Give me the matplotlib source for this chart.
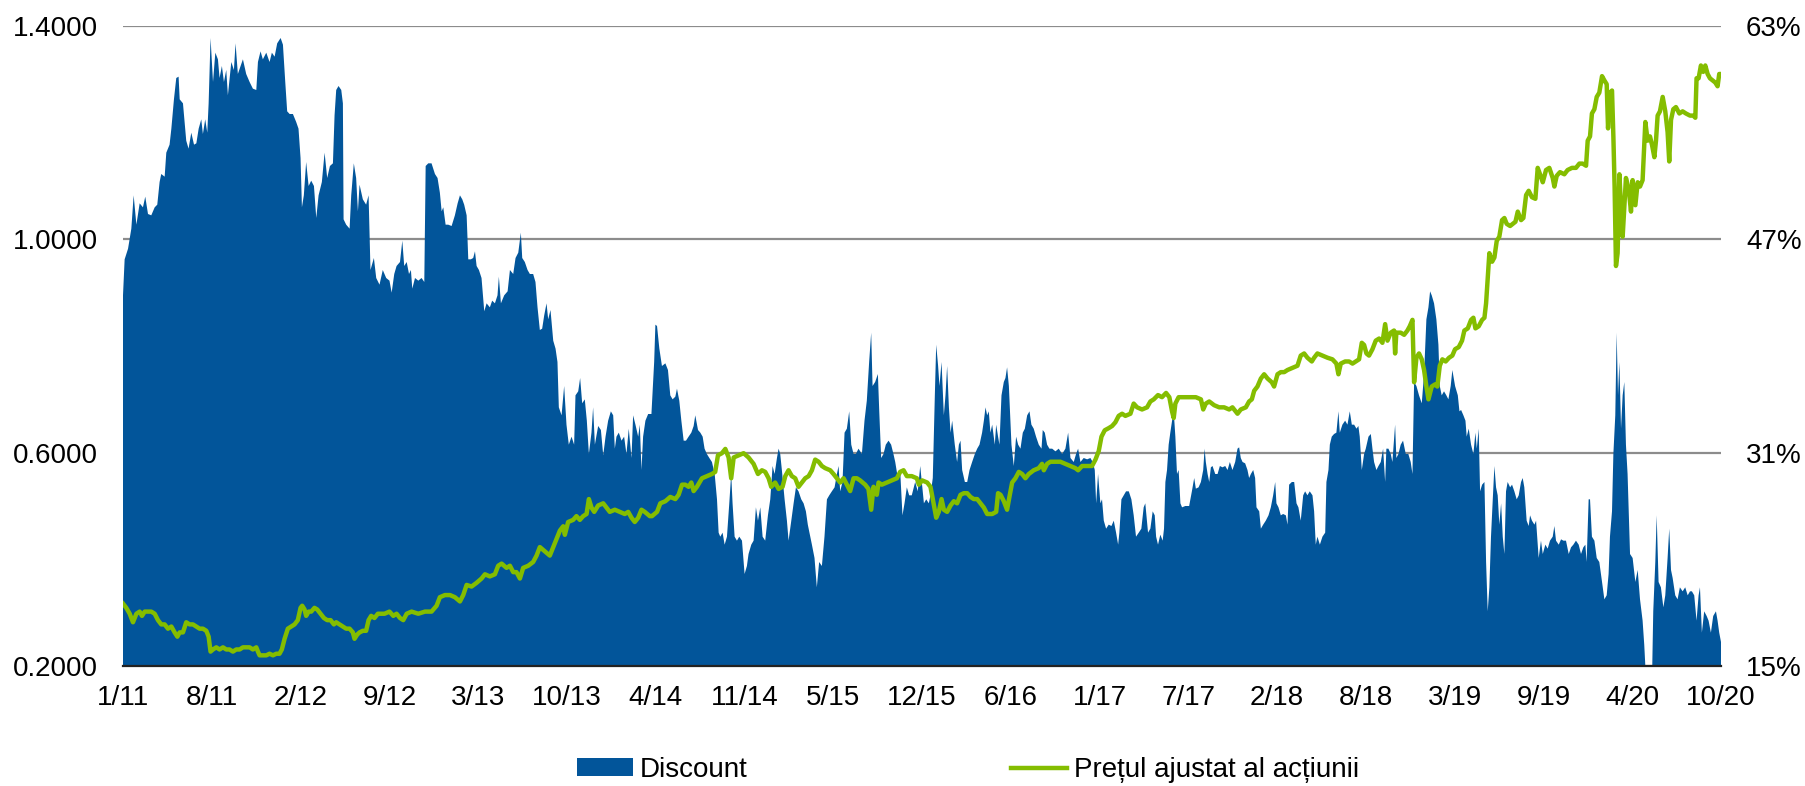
import numpy as np
import matplotlib.pyplot as plt
from matplotlib.patches import Patch
from matplotlib.lines import Line2D

plt.rcParams['font.family'] = ['Liberation Sans', 'DejaVu Sans']

# x axis: months since Jan 2011
tick_labels = ['1/11', '8/11', '2/12', '9/12', '3/13', '10/13', '4/14', '11/14', '5/15',
               '12/15', '6/16', '1/17', '7/17', '2/18', '8/18', '3/19', '9/19', '4/20', '10/20']

# discount (%), right axis
disc_t = [0, 0.12, 0.37, 0.61, 0.78, 0.98, 1.22, 1.46, 1.63, 1.83, 2.07, 2.32, 2.51, 2.68, 2.80, 3.05,
          3.17, 3.41, 3.54, 3.73, 3.90, 4.07, 4.15, 4.39, 4.63, 4.80, 5.00, 5.20, 5.37, 5.54, 5.73, 5.85,
          6.02, 6.17, 6.27, 6.41, 6.59, 6.76, 6.95, 7.07, 7.24, 7.39, 7.56, 7.68, 7.93, 8.12, 8.24, 8.41,
          8.61, 8.78, 9.02, 9.27, 9.51, 9.76, 9.88, 10.07, 10.24, 10.49, 10.73, 10.90, 11.10, 11.29, 11.54,
          11.71, 11.88, 12.02, 12.20, 12.44, 12.68, 12.85, 13.00, 13.10, 13.24, 13.41, 13.59, 13.78, 13.98,
          14.15, 14.32, 14.56, 14.76, 14.95, 15.15, 15.37, 15.49, 15.61, 15.78, 15.98, 16.10, 16.15, 16.34,
          16.59, 16.71, 16.90, 17.07, 17.20, 17.32, 17.56, 17.80, 17.98, 18.12, 18.37, 18.54, 18.78, 19.02,
          19.27, 19.51,
          19.67, 19.86, 20.03, 20.28, 20.45, 20.59, 20.77, 20.94, 21.08, 21.18, 21.38, 21.62, 21.86, 22.06,
          22.16, 22.35, 22.59, 22.84, 23.03, 23.20, 23.33, 23.45, 23.62, 23.81, 24.06, 24.30, 24.50, 24.67,
          24.84, 24.98, 25.16, 25.28, 25.47, 25.64, 25.77, 25.89, 26.06, 26.25, 26.45, 26.62, 26.86, 27.03,
          27.23, 27.42, 27.52, 27.67, 27.91, 28.16, 28.33, 28.57, 28.74, 28.94, 29.13, 29.23, 29.42, 29.62,
          29.79, 30.03, 30.20, 30.35, 30.52, 30.69, 30.84, 31.01, 31.13, 31.30, 31.50, 31.67, 31.81, 31.91,
          32.11, 32.30, 32.47, 32.64, 32.84, 33.03, 33.13, 33.33, 33.47, 33.62, 33.81, 33.96, 34.11, 34.30,
          34.42, 34.55, 34.79, 34.99, 35.16, 35.33, 35.52, 35.72, 35.89, 36.01, 36.13, 36.30, 36.50, 36.69,
          36.86, 37.03, 37.23, 37.35, 37.52, 37.72, 37.84, 37.96, 38.08, 38.25, 38.45, 38.69, 38.89, 38.98,
          39.10, 39.27, 39.46, 39.71, 39.90, 40.07, 40.24, 40.44, 40.56, 40.73, 40.88, 41.05, 41.22, 41.41,
          41.61, 41.78, 41.90, 42.10, 42.27, 42.44, 42.58, 42.75, 42.93, 43.12, 43.32, 43.49, 43.61, 43.73,
          43.90, 44.05, 44.22, 44.39, 44.53, 44.63, 44.78, 44.95, 45.12, 45.32, 45.51, 45.68, 45.80, 46.00,
          46.17, 46.34, 46.49, 46.66, 46.83, 47.02, 47.22, 47.39, 47.56, 47.71, 47.88, 48.00, 48.12, 48.24,
          48.44, 48.61, 48.73, 48.93, 49.10, 49.27, 49.46, 49.66, 49.83, 50.00, 50.14, 50.32, 50.44, 50.63,
          50.80, 50.97, 51.17, 51.36, 51.54, 51.71, 51.90, 52.10, 52.27, 52.39, 52.51, 52.68, 52.83, 53.00,
          53.17, 53.32, 53.49, 53.66, 53.85, 54.10, 54.29, 54.46, 54.63, 54.78, 54.88, 55.07, 55.27, 55.37,
          55.51, 55.68, 55.85, 56.05, 56.24, 56.41, 56.54, 56.73, 56.90, 57.07, 57.22, 57.39, 57.56, 57.75,
          58.00, 58.19, 58.37,
          58.64, 58.81, 59.00, 59.12, 59.29, 59.44, 59.54, 59.68, 59.78, 59.93, 60.10, 60.22, 60.34, 60.47,
          60.59, 60.71, 60.90, 61.07, 61.20, 61.32, 61.44, 61.64, 61.81, 61.98, 62.17, 62.37, 62.54, 62.71,
          62.90, 63.03, 63.15, 63.27, 63.39, 63.51, 63.64, 63.83, 63.93, 64.07, 64.17, 64.32, 64.49, 64.61,
          64.73, 64.86, 65.05, 65.22, 65.39, 65.54, 65.71, 65.88, 66.03, 66.20, 66.37, 66.51, 66.68, 66.85,
          67.05, 67.25, 67.34, 67.49, 67.66, 67.83, 68.03, 68.27, 68.51, 68.76, 69.00, 69.20, 69.37, 69.61,
          69.78, 69.93, 70.10, 70.34, 70.59, 70.83, 71.00, 71.15, 71.25, 71.39, 71.56, 71.68, 71.81, 71.98,
          72.17, 72.37, 72.54, 72.71, 72.86, 72.95, 73.10, 73.27, 73.44, 73.64, 73.83, 74.00, 74.17, 74.37,
          74.56, 74.73, 74.85, 75.05, 75.22, 75.39, 75.54, 75.64, 75.78, 75.95, 76.12, 76.22, 76.32, 76.44,
          76.56, 76.68, 76.81, 76.93, 77.05, 77.17, 77.29, 77.42, 77.54, 77.78,
          78.06, 78.26, 78.43, 78.55, 78.75, 78.92, 79.09, 79.19, 79.28, 79.41, 79.53, 79.65, 79.77, 79.97,
          80.14, 80.31, 80.50, 80.70, 80.87, 81.04, 81.23, 81.43, 81.60, 81.72, 81.84, 81.97, 82.16, 82.33,
          82.45, 82.58, 82.75, 82.89, 82.99, 83.19, 83.31, 83.48, 83.67, 83.87, 84.04, 84.21, 84.36, 84.45,
          84.60, 84.77, 84.94, 85.14, 85.26, 85.38, 85.58, 85.75, 85.92, 86.06, 86.23, 86.41, 86.55, 86.72,
          86.89, 87.09, 87.21, 87.33, 87.45, 87.63, 87.82, 88.02, 88.11, 88.26, 88.36, 88.50, 88.67, 88.84,
          88.99, 89.09, 89.28, 89.48, 89.65, 89.82, 89.97, 90.14, 90.31, 90.45, 90.55, 90.70, 90.87, 90.99,
          91.19, 91.36, 91.48, 91.60, 91.77, 91.92, 92.09, 92.26, 92.41, 92.50, 92.65, 92.82, 92.94, 93.14,
          93.23, 93.38, 93.55, 93.72, 93.92, 94.11, 94.28, 94.41, 94.53, 94.70, 94.89, 95.09, 95.26, 95.43,
          95.58, 95.70, 95.82, 95.99, 96.16, 96.31, 96.41, 96.55, 96.72, 96.89, 97.04, 97.21, 97.33, 97.53,
          97.73, 97.85, 97.97, 98.14, 98.29, 98.38, 98.53, 98.70, 98.87, 99.02, 99.12, 99.26, 99.36, 99.51,
          99.68, 99.80, 99.92, 100.04, 100.16, 100.29, 100.41, 100.53, 100.65, 100.77, 100.90, 101.02,
          101.14, 101.26, 101.38, 101.56, 101.70, 101.87, 102.04, 102.19, 102.36, 102.48, 102.60, 102.77,
          102.92, 103.02, 103.16, 103.34, 103.46, 103.65, 103.82, 103.95, 104.14, 104.31, 104.48, 104.68,
          104.80, 104.92, 105.12, 105.29, 105.46, 105.65, 105.85, 106.02, 106.19, 106.38, 106.58, 106.75,
          106.92, 107.07, 107.16, 107.31, 107.41, 107.55, 107.73, 107.90, 108.09, 108.29, 108.46, 108.63,
          108.77, 108.87, 109.02, 109.12, 109.26, 109.36, 109.46, 109.56, 109.68, 109.80, 109.92, 110.04,
          110.16, 110.34, 110.53, 110.73, 110.90, 111.07, 111.26, 111.38, 111.51, 111.75, 111.95, 112.04,
          112.19, 112.29, 112.43, 112.60, 112.78, 112.92, 113.09, 113.21, 113.34, 113.46, 113.65, 113.82,
          113.99, 114.19, 114.38, 114.56, 114.73, 114.87, 115.04, 115.21, 115.36, 115.46, 115.60, 115.77,
          115.95, 116.09, 116.26, 116.43, 116.63, 116.75, 116.87, 117.0]
disc_v = [42.8, 45.5, 46.3, 47.8, 50.3, 48.1, 49.7, 49.4, 50.2, 48.9, 48.8, 49.4, 49.6, 51.3, 51.9, 51.7,
          53.5, 54.1, 55.3, 57.5, 59.1, 59.2, 57.5, 57.2, 54.4, 53.8, 55.0, 54.1, 54.2, 55.3, 56.0, 54.9,
          56.0, 55.0, 57.2, 62.1, 58.8, 61.0, 60.5, 59.1, 60.0, 58.8, 59.7, 57.8, 60.3, 59.7, 61.7, 59.4,
          60.0, 60.5, 59.4, 58.8, 58.3, 58.2, 60.3, 61.1, 60.5, 61.0, 60.3, 61.0, 60.7, 61.7, 62.1,
          61.6, 58.8, 56.6, 56.4, 56.4, 55.8, 55.3, 53.1, 49.4, 50.3, 52.8, 51.0, 51.4, 51.0,
          48.6, 50.3, 51.3, 53.5, 51.6, 52.5, 52.7, 56.3, 58.2, 58.5, 58.2, 57.2, 48.5, 48.1,
          47.8, 50.3, 52.7, 51.6, 49.1, 51.1, 50.0, 49.6, 50.3, 44.7, 45.6, 44.1, 43.6, 44.7,
          44.1, 43.9,
          43.0, 44.4, 45.0, 45.3, 46.9, 45.0, 45.3, 44.4, 44.7, 43.3, 44.1, 43.9, 44.1, 43.8,
          52.5, 52.7, 52.7, 51.9, 51.6, 50.5, 49.1, 49.4, 48.1, 48.1, 48.0, 48.8, 49.7, 50.3,
          50.0, 49.6, 48.8, 45.5, 45.5, 45.6, 46.1, 45.0, 44.7, 44.1, 41.6, 42.2, 41.9, 42.4,
          42.2, 42.8, 44.2, 42.2, 42.8, 43.1, 44.7, 44.4, 45.6, 46.0, 47.5, 45.6, 45.3, 44.7,
          44.4, 44.4, 43.8, 41.9, 40.2, 40.3, 41.3, 42.2, 41.0, 41.7, 39.4, 38.8, 37.8, 34.4,
          33.8, 36.0, 33.1, 31.6, 32.2, 31.6, 35.3, 35.6, 36.6, 34.7, 35.0, 33.4, 30.9, 32.5,
          34.4, 31.6, 33.0, 32.7, 30.8, 32.2, 33.4, 34.1, 33.8, 31.3, 32.2, 32.5, 31.9, 32.2,
          30.9, 32.8, 30.6, 33.8, 33.1, 32.2, 33.1, 29.7, 32.2, 33.4, 33.9, 33.9, 37.8, 40.6,
          40.5, 38.8, 37.5, 37.7, 37.2, 35.3, 35.0, 35.2, 35.8, 34.9, 33.4, 31.9, 31.9, 32.2,
          32.5, 33.0, 33.8, 32.7, 32.5, 32.2, 31.3, 30.9, 30.6, 30.3, 29.4, 27.5, 25.0, 24.7,
          25.0, 24.1, 24.7, 27.2, 29.4, 27.2, 24.7, 24.4, 24.7, 24.4, 21.9, 22.5, 23.4, 24.1,
          24.4, 26.9, 25.9, 26.9, 24.7, 24.4, 26.3, 27.5, 30.0, 29.4, 30.6, 31.3, 30.9, 29.7,
          27.5, 25.9, 24.4, 25.9, 27.2, 28.4, 28.1, 27.5, 27.2, 26.6, 25.6, 24.7, 24.1, 23.1,
          20.9, 22.8, 22.5, 24.7, 27.5, 27.8, 28.1, 28.4, 29.4, 30.0, 28.1, 28.8, 32.5, 32.8,
          34.1, 31.6, 30.9, 30.9, 31.3, 30.9, 33.4, 34.9, 37.8, 40.0, 36.0, 36.3, 36.9, 34.1,
          30.6, 30.9, 31.6, 31.9, 31.6, 30.9, 30.3, 29.1, 29.7, 26.3, 27.2, 28.4, 27.8, 27.8,
          28.8, 28.1, 30.0,
          27.2, 27.5, 27.2, 27.8, 29.1, 35.3, 39.1, 37.5, 36.0, 37.8, 33.8, 35.3, 37.5, 34.4,
          32.5, 33.4, 31.6, 30.3, 31.6, 31.9, 29.7, 28.8, 28.8, 29.7, 30.3, 30.9, 31.3, 31.6,
          32.5, 33.4, 34.4, 33.8, 34.1, 32.5, 33.1, 31.6, 33.1, 32.2, 31.6, 35.3, 36.3, 36.6,
          37.4, 36.0, 31.6, 30.0, 32.2, 31.6, 31.3, 32.5, 32.8, 33.8, 34.1, 33.1, 32.8, 32.2,
          31.6, 31.3, 32.7, 32.5, 31.6, 31.3, 31.3, 31.1, 31.3, 30.9, 31.3, 32.5, 30.6, 30.3,
          30.9, 31.3, 30.3, 30.6, 30.5, 30.6, 30.3, 29.7, 27.2, 29.4, 27.2, 27.5, 25.9, 25.3,
          25.6, 25.5, 25.9, 25.0, 24.1, 25.0, 27.5, 27.8, 28.1, 28.1, 27.5, 26.3, 24.7, 25.0,
          25.3, 26.9, 27.2, 25.0, 25.3, 26.6, 26.3, 24.7, 24.1, 24.85, 24.4, 25.3, 28.8, 29.7,
          31.6, 32.5, 33.4, 34.1, 32.2, 29.4, 29.7, 27.2, 26.9, 27.0,
          27.0, 28.1, 29.1, 28.3, 28.4, 28.8, 29.7, 31.3, 30.3, 29.4, 28.8, 29.9, 30.0, 29.4,
          29.4, 30.0, 29.9, 30.0, 29.7, 30.3, 29.7, 30.3, 31.3, 31.4, 30.6, 30.3, 30.2, 29.7,
          29.1, 29.4, 29.7, 29.1, 26.9, 26.6, 25.3, 25.6, 25.9, 26.3, 26.9, 27.8, 28.8, 27.2,
          26.9, 26.3, 26.4, 26.3, 25.6, 28.6, 28.8, 28.8, 27.2, 26.9, 25.9, 27.8, 28.1, 27.8,
          28.1, 27.8, 26.6, 24.1, 24.7, 24.1, 24.7, 25.0, 28.8, 29.7, 31.6, 32.2, 32.4, 32.5,
          34.1, 32.5, 33.1, 33.4, 33.1, 34.1, 33.1, 33.1, 32.8, 33.0, 32.2, 29.7, 30.9, 31.3,
          32.2, 32.4, 31.3, 30.3, 29.7, 30.0, 30.3, 31.3, 28.8, 31.3, 31.3, 30.9, 30.3, 33.1,
          30.6, 30.9, 31.6, 31.9, 30.9, 30.9, 30.3, 29.4, 36.3, 36.0, 35.3, 34.7, 36.9, 41.0,
          41.9, 43.1, 42.8, 42.2, 41.0, 39.1, 36.0, 35.3, 35.6, 35.3, 35.0, 36.0, 37.2, 36.0,
          35.3, 34.1, 34.2, 33.8, 33.4, 32.2, 32.8, 31.6, 30.9, 32.5, 31.3, 32.8, 28.1, 28.6,
          28.8, 22.8, 19.1, 20.9, 24.7, 27.5, 30.0, 28.4, 27.8, 25.6, 27.2, 24.7,
          23.4, 28.1, 28.8, 28.4, 28.6, 28.1, 27.5, 27.8, 28.8, 29.1, 28.4, 25.9,
          25.5, 26.3, 25.9, 25.6, 25.9, 23.1, 24.4, 23.4, 24.1, 23.8, 24.4, 24.7,
          25.5, 24.4, 24.1, 24.5, 24.4, 24.4, 23.4, 23.9, 24.1, 24.4, 24.1, 23.4,
          23.9, 24.1, 22.8, 27.5, 27.5, 24.7, 24.4, 23.1, 22.8, 21.3, 20.0, 20.3,
          21.9, 24.7, 26.6, 30.9, 33.8, 40.0, 35.3, 37.8, 32.8, 35.3, 36.3, 31.6,
          29.4, 23.4, 23.1, 21.3, 22.2, 20.0, 18.4, 16.6, 14.0, 14.0, 14.0, 19.1,
          22.8, 26.3, 21.3, 20.9, 19.4, 20.3, 23.1, 25.3, 22.2, 21.6, 20.3, 20.0,
          20.9, 20.6, 20.9, 20.3, 20.6, 20.6, 20.3, 18.4, 20.3, 20.9, 17.5, 19.1,
          18.75, 18.4, 17.5, 18.75, 19.1, 18.4, 17.5, 16.8]

# adjusted share price, left axis
price_t = [0, 0.24, 0.49, 0.73, 0.98, 1.22, 1.39, 1.59, 1.83, 2.07, 2.32, 2.56, 2.80, 3.05, 3.29, 3.54,
           3.78, 3.98, 4.15, 4.39, 4.63, 4.88, 5.12, 5.37, 5.61, 5.85, 6.10, 6.27, 6.41, 6.59, 6.83, 7.07,
           7.32, 7.56, 7.80, 8.05, 8.29, 8.54, 8.78, 9.02, 9.27, 9.51, 9.76, 9.88, 10.00, 10.24, 10.49,
           10.73, 10.98, 11.22, 11.46, 11.63, 11.83, 12.07, 12.32, 12.56, 12.80, 13.00, 13.12, 13.29, 13.41,
           13.59, 13.78, 14.02, 14.22, 14.46, 14.71, 14.95, 15.20, 15.44, 15.61, 15.85, 16.10, 16.34, 16.59,
           16.83, 16.95, 17.15, 17.32, 17.56, 17.80, 17.98, 18.17, 18.41, 18.66, 18.90, 19.15, 19.51,
           19.79, 20.03, 20.28, 20.52, 20.77, 21.13, 21.62, 22.11, 22.59, 22.96, 23.20, 23.57, 23.94, 24.30,
           24.67, 24.91, 25.16, 25.52, 25.89, 26.25, 26.50, 26.86, 27.23, 27.47, 27.72, 28.08, 28.33, 28.57,
           28.81, 29.06, 29.30, 29.67, 30.03, 30.28, 30.52, 30.89, 31.25, 31.50, 31.74, 31.99, 32.23, 32.35,
           32.59, 32.96, 33.20, 33.45, 33.69, 33.94, 34.11, 34.30, 34.50, 34.79, 35.16, 35.40, 35.64, 36.01,
           36.38, 36.74, 36.99, 37.23, 37.47, 37.72, 37.96, 38.20, 38.57,
           38.73, 39.10, 39.34, 39.71, 40.07, 40.44, 40.68, 40.93, 41.17, 41.41, 41.61, 41.78, 42.02, 42.39,
           42.75, 43.12, 43.36, 43.56, 43.85, 44.10, 44.34, 44.53, 44.71, 45.07, 45.44, 45.80, 46.17, 46.49,
           46.78, 47.02, 47.27, 47.46, 47.75, 48.00, 48.29, 48.49, 48.73, 48.97, 49.22, 49.46, 49.71, 49.95,
           50.20, 50.44, 50.68, 50.93, 51.17, 51.41, 51.78, 52.02, 52.27, 52.51, 52.76, 53.00, 53.24, 53.49,
           53.73, 53.97, 54.34, 54.58, 54.78, 54.95, 55.19, 55.32, 55.56, 55.93, 56.29, 56.66, 56.90, 57.15,
           57.39, 57.75, 58.12,
           58.27, 58.51, 58.88, 59.12, 59.29, 59.54, 59.73, 59.93, 60.10, 60.34, 60.59, 60.83, 61.07, 61.32,
           61.56, 61.81, 62.05, 62.29, 62.54, 62.78, 63.03, 63.27, 63.64, 63.93, 64.07, 64.25, 64.49, 64.73,
           64.90, 65.10, 65.34, 65.59, 65.83, 66.07, 66.32, 66.68, 67.05, 67.29, 67.42, 67.66, 67.90, 68.27,
           68.63, 69.00, 69.37, 69.73, 69.93, 70.22, 70.59, 70.95, 71.20, 71.44, 71.64, 71.88, 72.17, 72.42,
           72.66, 72.90, 73.15, 73.39, 73.76, 74.00, 74.25, 74.61, 74.98, 75.22, 75.47, 75.78, 76.07, 76.37,
           76.61, 76.81, 76.93, 77.05, 77.29, 77.66,
           78.19, 78.55, 78.92, 79.09, 79.28, 79.53, 79.89, 80.26, 80.62, 80.99, 81.23, 81.60, 81.84, 82.21,
           82.45, 82.65, 82.82, 83.06, 83.31, 83.55, 83.80, 84.11, 84.28, 84.53, 84.77, 85.02, 85.26, 85.62,
           85.99, 86.23, 86.48, 86.72, 87.04, 87.21, 87.45, 87.82, 88.19, 88.55, 88.84, 88.99, 89.16, 89.48,
           89.77, 90.02, 90.26, 90.50, 90.70, 90.87, 91.04, 91.23, 91.48, 91.72, 91.97, 92.21, 92.41, 92.58,
           92.82, 93.06, 93.14, 93.23, 93.55, 93.80, 94.04, 94.21, 94.41, 94.53, 94.70, 94.89, 95.09, 95.26,
           95.43, 95.58, 95.82, 96.06, 96.23, 96.41, 96.60, 96.84, 97.09, 97.33, 97.53,
           97.80, 98.04, 98.21, 98.46, 98.70, 98.87, 99.02, 99.26, 99.51, 99.68, 99.80, 99.92, 100.04,
           100.24, 100.41, 100.58, 100.77, 100.97, 101.14, 101.31, 101.56, 101.75, 101.95, 102.12, 102.36,
           102.53, 102.73, 102.92, 103.16, 103.41, 103.58, 103.75, 103.95, 104.19, 104.43, 104.68, 104.80,
           104.97, 105.21, 105.53, 105.77, 106.09, 106.38, 106.63, 106.87, 107.12, 107.24, 107.41, 107.55,
           107.73, 107.90, 108.09, 108.29, 108.46, 108.63, 108.73, 108.87, 109.02, 109.12, 109.21, 109.31,
           109.43, 109.56, 109.68, 109.80, 109.92, 110.04, 110.24, 110.41, 110.53, 110.73, 110.90, 111.07,
           111.26, 111.46, 111.63, 111.80, 111.95, 112.12, 112.24, 112.36, 112.53, 112.73, 112.92, 113.09,
           113.21, 113.34, 113.51, 113.70, 113.95, 114.19, 114.43, 114.73, 114.97, 115.12, 115.21, 115.36,
           115.53, 115.70, 115.85, 116.02, 116.19, 116.39, 116.58, 116.75, 116.87, 116.97]
price_v = [0.317, 0.309, 0.298, 0.282, 0.298, 0.302, 0.294, 0.302, 0.302, 0.302, 0.298, 0.286, 0.278,
           0.278, 0.270, 0.274, 0.263, 0.255, 0.263, 0.263, 0.282, 0.278, 0.278, 0.274, 0.270, 0.270,
           0.266, 0.255, 0.227, 0.231, 0.235, 0.231, 0.235, 0.231, 0.231, 0.227, 0.231, 0.231, 0.235,
           0.235, 0.235, 0.231, 0.235, 0.227, 0.220, 0.220, 0.220, 0.223, 0.220, 0.223, 0.223, 0.231,
           0.251, 0.270, 0.274, 0.278, 0.286, 0.309, 0.313, 0.306, 0.294, 0.302, 0.302, 0.309, 0.306,
           0.298, 0.290, 0.286, 0.286, 0.278, 0.282, 0.278, 0.274, 0.270, 0.270, 0.263, 0.251, 0.259,
           0.263, 0.266, 0.266, 0.286, 0.294, 0.290, 0.298, 0.298, 0.298, 0.302,
           0.294, 0.298, 0.290, 0.286, 0.298, 0.302, 0.298, 0.302, 0.302, 0.313, 0.329, 0.333, 0.333,
           0.329, 0.321, 0.333, 0.352, 0.349, 0.356, 0.364, 0.372, 0.368, 0.372, 0.388, 0.392, 0.384,
           0.388, 0.376, 0.376, 0.364, 0.384, 0.388, 0.395, 0.407, 0.423, 0.415, 0.407, 0.423, 0.438,
           0.454, 0.462, 0.446, 0.470, 0.474, 0.481, 0.474, 0.481, 0.485, 0.513, 0.497, 0.489, 0.501,
           0.505, 0.497, 0.489, 0.493, 0.489, 0.485, 0.489, 0.478, 0.470, 0.478, 0.493, 0.489, 0.481,
           0.481, 0.489, 0.505, 0.509, 0.517, 0.513, 0.521, 0.540, 0.540, 0.536, 0.544, 0.528, 0.536,
           0.552, 0.556, 0.560, 0.564, 0.595, 0.599, 0.607, 0.591, 0.552, 0.591, 0.595, 0.599, 0.591,
           0.579, 0.560, 0.567, 0.564, 0.552, 0.536, 0.544, 0.532, 0.536, 0.556, 0.567, 0.556, 0.552,
           0.536, 0.544, 0.552, 0.556, 0.567, 0.587, 0.583, 0.575, 0.571, 0.567, 0.560, 0.552, 0.544,
           0.552, 0.540, 0.528, 0.552, 0.552, 0.548, 0.540, 0.532, 0.493, 0.536, 0.521, 0.544, 0.540,
           0.544, 0.548, 0.552, 0.564, 0.567, 0.556, 0.556, 0.552,
           0.540, 0.548, 0.544, 0.536, 0.513, 0.478, 0.489, 0.513, 0.493, 0.489, 0.501, 0.509, 0.505,
           0.521, 0.524, 0.524, 0.517, 0.513, 0.513, 0.505, 0.497, 0.485, 0.485, 0.489, 0.524, 0.521,
           0.509, 0.493, 0.517, 0.544, 0.552, 0.564, 0.560, 0.552, 0.560, 0.567, 0.571, 0.579, 0.567,
           0.579, 0.583, 0.583, 0.583, 0.579, 0.575, 0.571, 0.567, 0.575, 0.575, 0.575, 0.587, 0.603,
           0.630, 0.642, 0.646, 0.650, 0.657, 0.669, 0.673, 0.669, 0.673, 0.692, 0.685, 0.681, 0.685,
           0.696, 0.700, 0.708, 0.704, 0.712, 0.704, 0.677, 0.665, 0.692, 0.704, 0.704,
           0.704, 0.704, 0.700, 0.681, 0.692, 0.696, 0.689, 0.685, 0.685, 0.681, 0.685, 0.673, 0.681,
           0.685, 0.696, 0.700, 0.716, 0.724, 0.739, 0.747, 0.739, 0.732, 0.724, 0.747, 0.751, 0.751,
           0.755, 0.759, 0.763, 0.782, 0.786, 0.778, 0.771, 0.778, 0.786, 0.782, 0.778, 0.775, 0.767,
           0.747, 0.767, 0.771, 0.771, 0.767, 0.771, 0.775, 0.806, 0.802, 0.786, 0.782, 0.794, 0.810,
           0.814, 0.806, 0.841, 0.810, 0.825, 0.829, 0.786, 0.825, 0.825, 0.821, 0.829, 0.837, 0.849,
           0.732, 0.778, 0.786, 0.775, 0.755, 0.724, 0.700, 0.724, 0.728, 0.724, 0.763, 0.775, 0.771,
           0.778, 0.782, 0.794,
           0.798, 0.810, 0.829, 0.833, 0.849, 0.853, 0.833, 0.837, 0.849, 0.853, 0.880, 0.927, 0.974,
           0.958, 0.966, 0.997, 1.005, 1.036, 1.040, 1.029, 1.025, 1.029, 1.033, 1.052, 1.036, 1.040,
           1.083, 1.091, 1.079, 1.076, 1.134, 1.122, 1.107, 1.130, 1.134, 1.115, 1.099, 1.119, 1.126,
           1.122, 1.130, 1.134, 1.134, 1.142, 1.142, 1.138, 1.185, 1.193, 1.236, 1.244, 1.267, 1.275,
           1.306, 1.298, 1.291, 1.208, 1.275, 1.279, 1.193, 1.099, 0.950, 0.974, 1.122, 1.060, 1.005,
           1.060, 1.115, 1.095, 1.052, 1.111, 1.064, 1.107, 1.099, 1.111, 1.220, 1.185, 1.193, 1.177,
           1.154, 1.185, 1.232, 1.240, 1.267, 1.240, 1.201, 1.146, 1.224, 1.244, 1.248, 1.236, 1.240,
           1.236, 1.232, 1.232, 1.228, 1.302, 1.302, 1.326, 1.314, 1.326, 1.310, 1.302, 1.298, 1.294,
           1.287, 1.310, 1.310]

blue = '#02559A'
green = '#84BD00'

fig = plt.figure(figsize=(18.06, 7.86), dpi=100)
ax = fig.add_axes([123 / 1806, 1 - 666 / 786, 1598 / 1806, 640 / 786])
ax2 = ax.twinx()

# discount area on the right axis, behind the price line
ax2.fill_between(disc_t, disc_v, 0, color=blue, lw=0, zorder=2)
ax2.set_ylim(15, 63)
ax2.set_yticks([15, 31, 47, 63])
ax2.set_yticklabels(['15%', '31%', '47%', '63%'])
ax2.yaxis.grid(True, color='#8c8c8c', lw=1.6)
ax2.set_axisbelow(True)

ax.plot(price_t, price_v, color=green, lw=3.2, zorder=3)
ax.set_ylim(0.2, 1.4)
ax.set_yticks([0.2, 0.6, 1.0, 1.4])
ax.set_yticklabels(['%.4f' % v for v in [0.2, 0.6, 1.0, 1.4]])
ax.set_xlim(0, 117)
ax.set_xticks(np.linspace(0, 117, len(tick_labels)))
ax.set_xticklabels(tick_labels)

ax.set_zorder(ax2.get_zorder() + 1)
ax.patch.set_visible(False)

for a in (ax, ax2):
    for s in ['top', 'left', 'right', 'bottom']:
        a.spines[s].set_visible(False)
    a.tick_params(length=0, labelsize=20)
ax.spines['bottom'].set_visible(True)
ax.spines['bottom'].set_linewidth(1.6)
ax.spines['bottom'].set_color('#222222')
ax.tick_params(axis='y', pad=18)
ax2.tick_params(axis='y', pad=18)
ax.tick_params(axis='x', pad=14)

handles = [Patch(facecolor=blue, edgecolor='none'), Line2D([], [], color=green, lw=3.2)]
fig.legend(handles, ['Discount', 'Prețul ajustat al acțiunii'], loc='center left',
           bbox_to_anchor=(577 / 1806, 1 - 770 / 786), ncol=2, frameon=False, fontsize=20,
           handlelength=2.0, handleheight=0.6, handletextpad=0.25, columnspacing=9.5,
           borderpad=0, borderaxespad=0)

fig.savefig('out.png', dpi=100)
